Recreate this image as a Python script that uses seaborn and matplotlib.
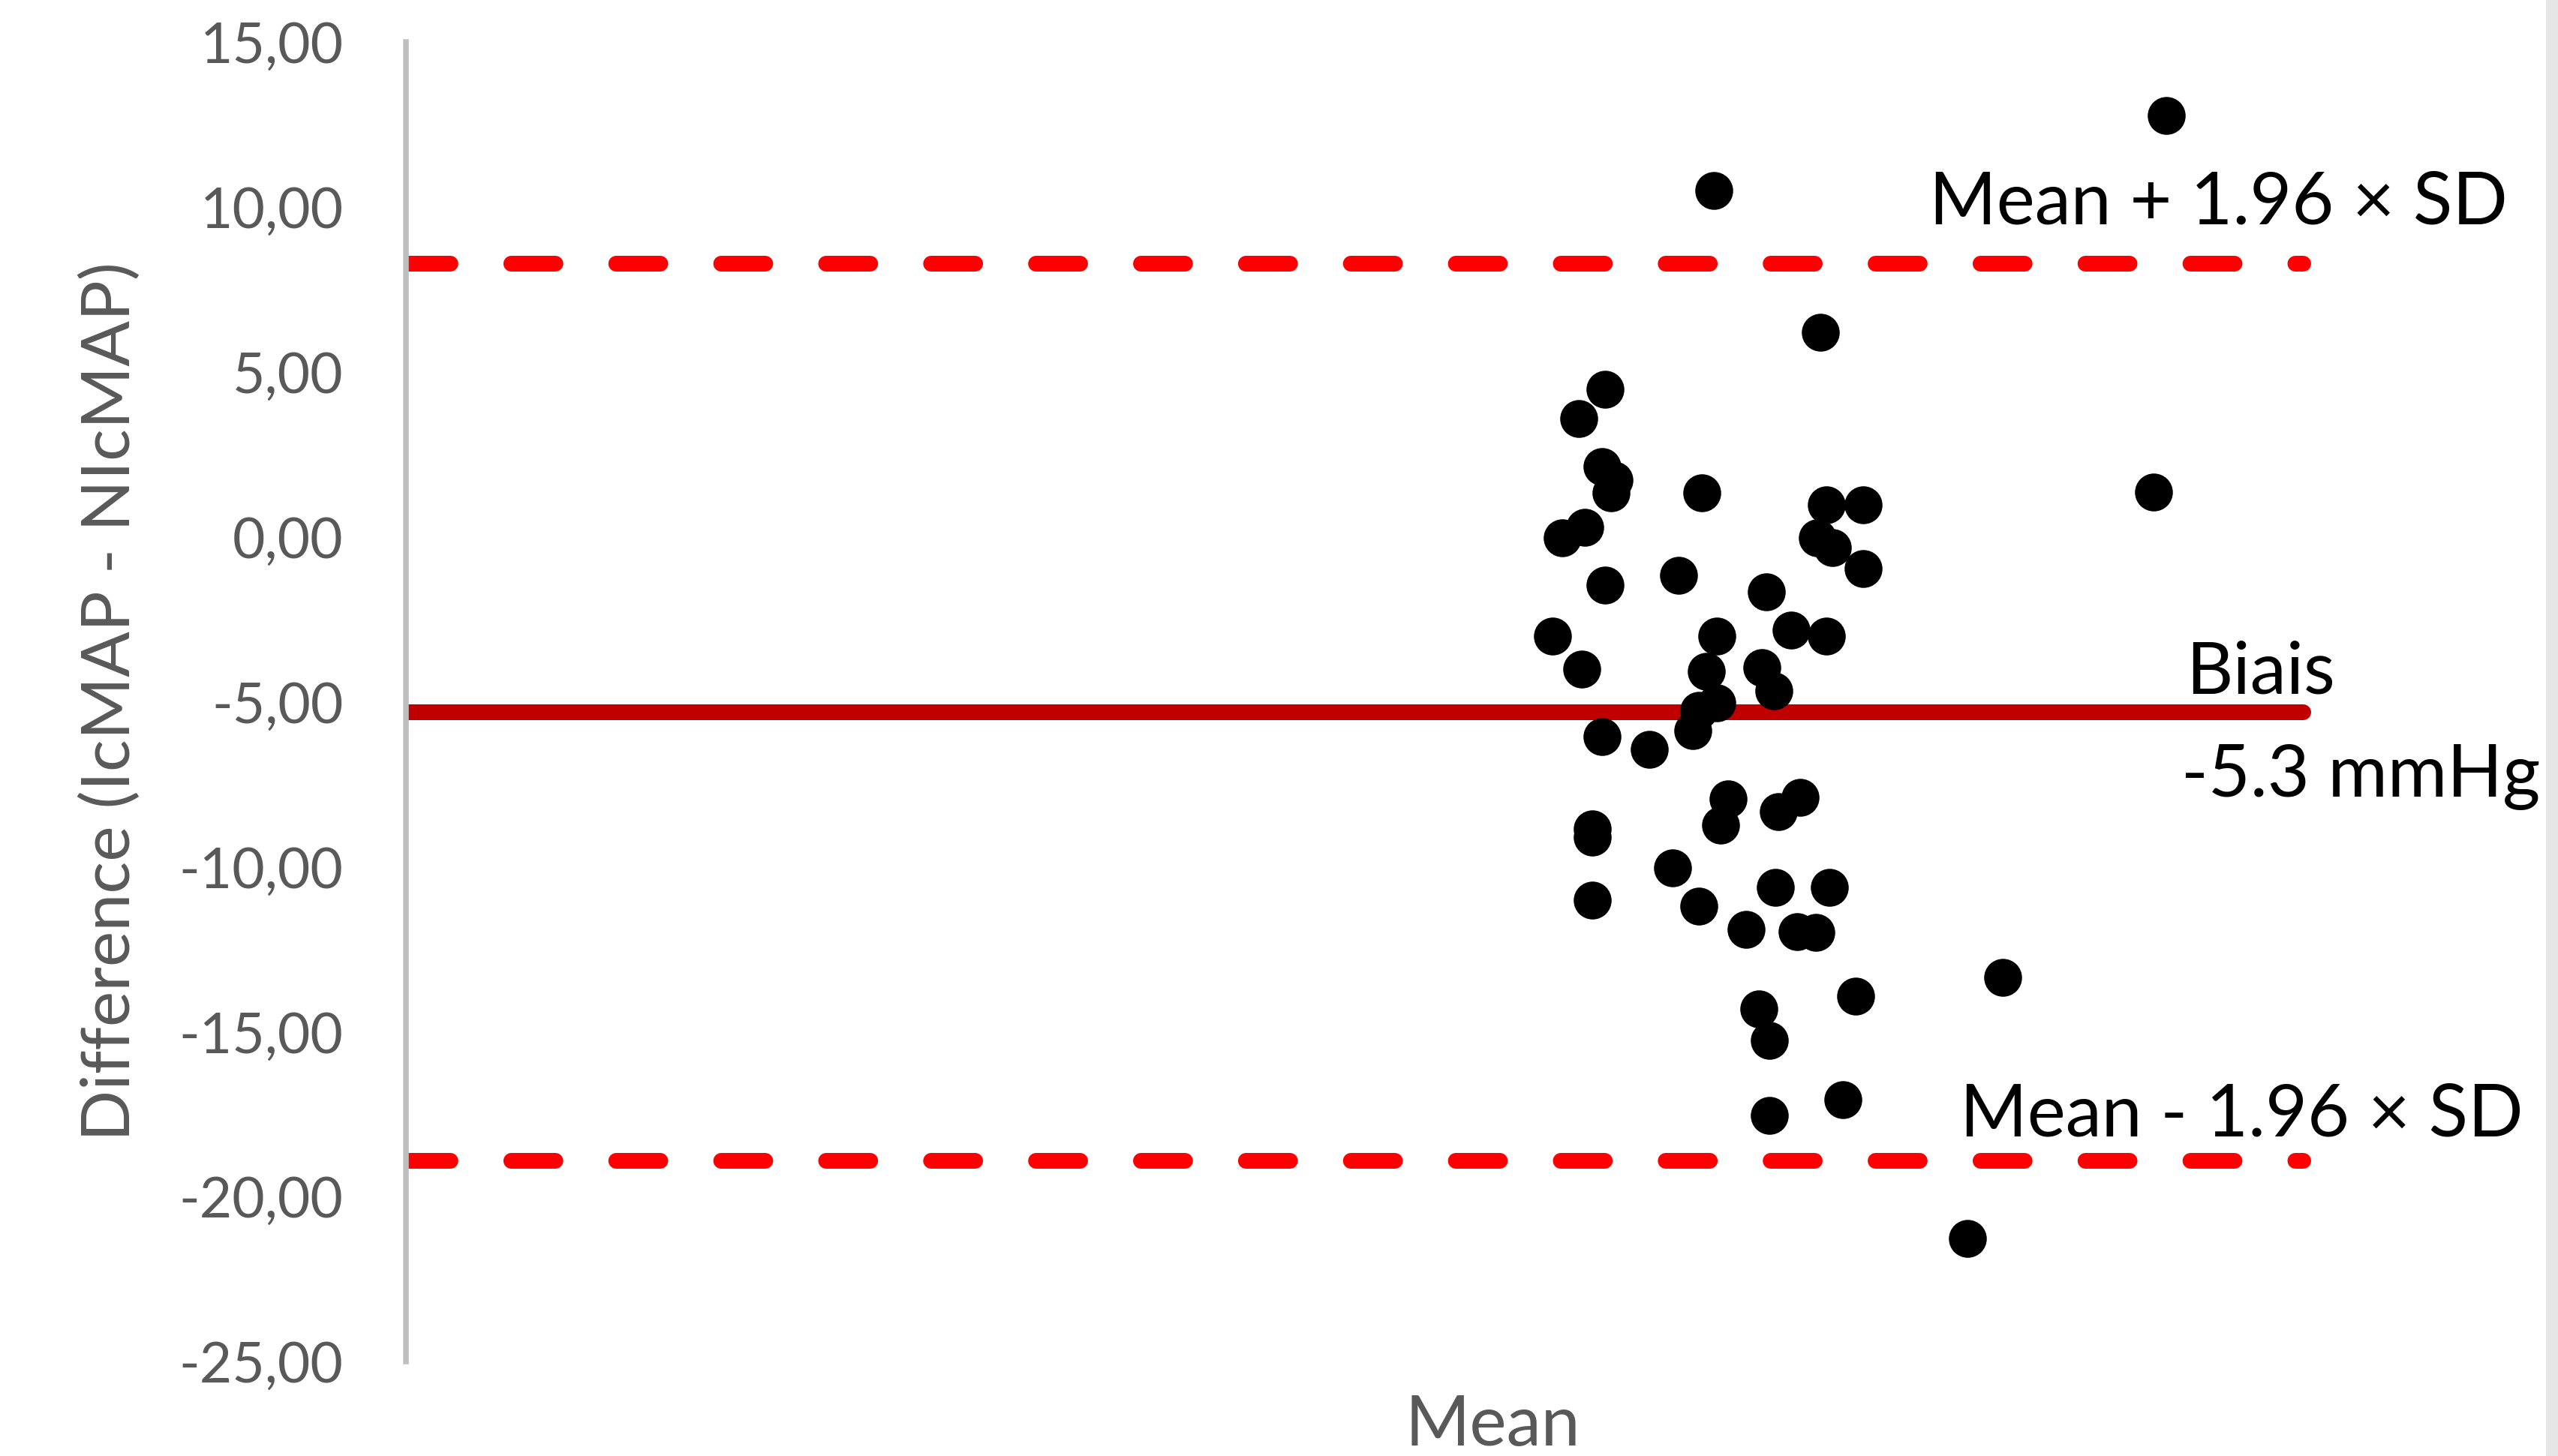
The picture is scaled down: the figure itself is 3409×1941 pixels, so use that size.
import matplotlib
matplotlib.use("Agg")
import matplotlib.pyplot as plt
from matplotlib.patches import Rectangle
import seaborn as sns
import pandas as pd

# ---- data ----
mean_values = [114.5, 85.1, 92.0, 78.0, 76.3, 77.8, 78.6, 78.4, 84.3, 113.7,
               92.4, 94.8, 76.7, 75.2, 91.8, 92.8, 94.8, 82.8, 78.0, 88.5,
               90.1, 74.6, 85.3, 92.4, 76.5, 84.6, 88.2, 89.0, 85.3, 84.1,
               83.7, 77.8, 80.9, 86.0, 90.7, 85.5, 89.3, 77.2, 77.2, 82.4,
               89.1, 92.6, 77.2, 84.1, 87.2, 90.5, 91.7, 103.9, 94.3, 88.0,
               88.7, 93.5, 88.7, 101.6]
diff_values = [12.77, 10.50, 6.20, 4.47, 3.59, 2.13, 1.72, 1.33, 1.33, 1.36,
               0.97, 0.97, 0.29, -0.03, -0.03, -0.33, -0.96, -1.17, -1.46, -1.67,
               -2.83, -3.01, -3.01, -3.01, -4.01, -4.08, -3.96, -4.67, -5.03, -5.26,
               -5.87, -6.06, -6.44, -7.94, -7.90, -8.74, -8.33, -8.85, -9.10, -10.03,
               -10.63, -10.63, -11.01, -11.19, -11.90, -11.97, -11.99, -13.35, -13.92, -14.31,
               -15.26, -17.06, -17.54, -21.27]

bias = -5.3
upper_loa = 8.3
lower_loa = -18.9
line_x = [0, 123.4]

y_ticks = [-25, -20, -15, -10, -5, 0, 5, 10, 15]
y_tick_labels = ["-25,00", "-20,00", "-15,00", "-10,00", "-5,00",
                 "0,00", "5,00", "10,00", "15,00"]

label_upper = "Mean + 1.96 \u00d7 SD"
label_lower = "Mean - 1.96 \u00d7 SD"
label_bias = "Biais"
label_bias_value = "-5.3 mmHg"
x_label = "Mean"
y_label = "Difference (IcMAP - NIcMAP)"

# ---- styling ----
sns.set_theme(style="white")
plt.rcParams["font.family"] = ["Lato", "DejaVu Sans"]

W, H, DPI = 3409, 1941, 200
fig = plt.figure(figsize=(W / DPI, H / DPI), dpi=DPI)
fig.patch.set_facecolor("white")

left_px, right_px, top_px, bottom_px = 541, W, 56, 1815
ax = fig.add_axes([left_px / W, 1 - bottom_px / H,
                   (right_px - left_px) / W, (bottom_px - top_px) / H])
ax.set_facecolor("white")

lw_pt = 21 * 72 / DPI

df_lines = pd.DataFrame({
    "x": line_x * 3,
    "y": [upper_loa] * 2 + [bias] * 2 + [lower_loa] * 2,
    "kind": ["upper"] * 2 + ["bias"] * 2 + ["lower"] * 2,
})

for kind, color, dashed in [("upper", "#FF0000", True),
                            ("lower", "#FF0000", True),
                            ("bias", "#C00000", False)]:
    sub = df_lines[df_lines["kind"] == kind]
    line, = ax.plot(sub["x"], sub["y"], color=color, lw=lw_pt, zorder=2)
    if dashed:
        line.set_linestyle((0, (2.8, 3.86)))
        line.set_dash_capstyle("round")
    else:
        line.set_solid_capstyle("round")

df_pts = pd.DataFrame({"mean": mean_values, "diff": diff_values})
diam_pt = 50.5 * 72 / DPI
sns.scatterplot(data=df_pts, x="mean", y="diff", ax=ax, s=diam_pt ** 2,
                color="black", edgecolor="black", linewidth=0, zorder=3,
                legend=False)

ax.set_xlim(0, 140)
ax.set_ylim(-25, 15)
ax.set_yticks(y_ticks)
ax.set_yticklabels(y_tick_labels)
ax.set_xticks([])
ax.tick_params(axis="y", length=0, pad=30, labelsize=27, labelcolor="#595959")

for side in ["top", "right", "bottom"]:
    ax.spines[side].set_visible(False)
ax.spines["left"].set_color("#BFBFBF")
ax.spines["left"].set_linewidth(2.7)
ax.grid(False)

ax.set_xlabel(x_label, fontsize=33.5, color="#595959")
ax.xaxis.set_label_coords((1989 - left_px) / (right_px - left_px), -0.049)
ax.xaxis.label.set_va("center")
ax.set_ylabel(y_label, fontsize=32.3, color="#595959")
ax.yaxis.set_label_coords((148 - left_px) / (right_px - left_px), 0.5)
ax.yaxis.label.set_va("center")

txt_kw = dict(fontsize=34.8, color="black", ha="left", va="center", zorder=4)
ax.text(99.1, 10.1, label_upper, **txt_kw)
ax.text(101.1, -17.55, label_lower, **txt_kw)
ax.text(115.8, -4.13, label_bias, **txt_kw)
ax.text(115.5, -7.28, label_bias_value, clip_on=False, **txt_kw)

fig.add_artist(Rectangle((3393 / W, 0), 16 / W, 1, transform=fig.transFigure,
                         facecolor="#E6E6E6", edgecolor="none", zorder=10))

fig.savefig("out.png", dpi=DPI)
